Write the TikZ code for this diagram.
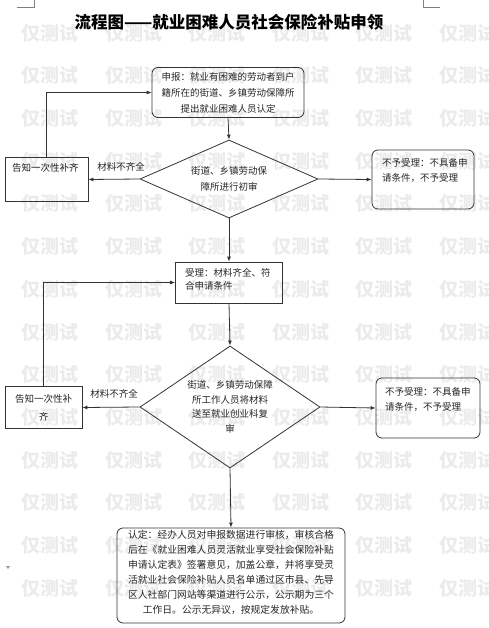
\documentclass[tikz,border=0pt]{standalone}
\usepackage{fontspec}
\newfontfamily\cjk{Noto Sans CJK SC}
\usetikzlibrary{shapes.geometric,arrows.meta}
\tikzset{
  line/.style={draw=black!80, line width=0.8pt},
  arr/.style={line, -{Latex[length=5pt,width=4pt]}},
  rbox/.style={draw=black!80, line width=0.8pt, rounded corners=6pt, inner sep=0pt},
  sbox/.style={draw=black!80, line width=0.8pt, inner sep=0pt},
  dia/.style={draw=black!80, line width=0.8pt, diamond, inner sep=0pt},
  txt/.style={font=\cjk\fontsize{9.5}{15}\selectfont, inner sep=0pt, text=black!85},
  wm/.style={font=\cjk\bfseries\fontsize{19}{19}\selectfont, text=black!8, inner sep=0pt},
}
\begin{document}
\begin{tikzpicture}[x=1pt,y=-1pt]
\path[use as bounding box] (0,0) rectangle (488,628);
% watermark
\foreach \r in {0,...,13}{\foreach \c in {0,...,5}{
  \node[wm] (w\r-\c) at ({50+83.6*\c},{33+42.7*\r}) {仅测试};}}
% page corner marks
\draw[draw=black!50, line width=0.6pt] (17,7) -- (34,7) -- (34,0);
\draw[draw=black!50, line width=0.6pt] (423,0) -- (423,7) -- (440,7);
\fill[black!40] (6,566) -- (10,566) -- (8,569) -- cycle;
% title
\node[font=\cjk\bfseries\fontsize{16.5}{16.5}\selectfont, inner sep=0pt] (title) at (229,22) {流程图——就业困难人员社会保险补贴申领};
% box 1
\node[rbox, minimum width=152pt, minimum height=50pt, txt, font=\cjk\fontsize{9.5}{16}\selectfont, align=center] (b1) at (228,92.5)
  {申报：就业有困难的劳动者到户\\籍所在的街道、乡镇劳动保障所\\提出就业困难人员认定};
% diamond 1
\node[dia, minimum width=178pt, minimum height=78pt, aspect=2.3, txt, font=\cjk\fontsize{9.5}{16}\selectfont, align=center] (d1) at (229,179)
  {街道、乡镇劳动保\\障所进行初审};
% left box 1
\node[sbox, minimum width=83pt, minimum height=44pt] (g1) at (46.5,179.5) {};
\node[txt, anchor=west] (g1t) at (12,168) {告知一次性补齐};
\node[txt] (l1) at (121,167) {材料不齐全};
% right box 1
\node[rbox, minimum width=102pt, minimum height=59pt] (n1) at (423,179.5) {};
\node[txt, anchor=north west, align=left] (n1t) at (382,158) {不予受理：不具备申\\请条件，不予受理};
% accept box
\node[sbox, minimum width=107pt, minimum height=41pt] (s1) at (229,282.5) {};
\node[txt, anchor=north west, align=left, font=\cjk\fontsize{9.5}{13.5}\selectfont] (s1t) at (185,268) {受理：材料齐全、符\\合申请条件};
% diamond 2
\node[dia, minimum width=180pt, minimum height=122pt, aspect=1.48, txt, font=\cjk\fontsize{9.5}{14.5}\selectfont, align=center] (d2) at (230,407)
  {街道、乡镇劳动保障\\所工作人员将材料\\送至就业创业科复\\审};
% left box 2
\node[sbox, minimum width=77pt, minimum height=42pt, txt, font=\cjk\fontsize{9.5}{18}\selectfont, align=center] (g2) at (43.5,407.5) {告知一次性补\\齐};
\node[txt] (l2) at (114,394) {材料不齐全};
% right box 2
\node[rbox, minimum width=104pt, minimum height=60pt] (n2) at (428,408) {};
\node[txt, anchor=north west, align=left] (n2t) at (385,387) {不予受理：不具备申\\请条件，不予受理};
% final box
\node[rbox, minimum width=228pt, minimum height=95pt] (r) at (231,575.5) {};
\node[txt, font=\cjk\fontsize{9.8}{15}\selectfont, align=center] (rt) at (231,572.5)
  {认定：经办人员对申报数据进行审核，审核合格\\后在《就业困难人员灵活就业享受社会保险补贴\\申请认定表》签署意见，加盖公章，并将享受灵\\活就业社会保险补贴人员名单通过区市县、先导\\区人社部门网站等渠道进行公示，公示期为三个\\工作日。公示无异议，按规定发放补贴。};
% connectors
\draw[arr] (b1.south) -- (d1.north);
\draw[arr] (d1.west) -- (g1.east);
\draw[arr] (d1.east) -- (n1.west);
\draw[arr] (g1.north) |- (b1.west);
\draw[arr] (d1.south) -- (s1.north);
\draw[arr] (s1.south) -- (d2.north);
\draw[arr] (d2.west) -- (g2.east);
\draw[arr] (d2.east) -- (n2.west);
\draw[arr] (g2.north) |- (s1.west);
\draw[arr] (d2.south) -- (r.north);
\end{tikzpicture}
\end{document}
